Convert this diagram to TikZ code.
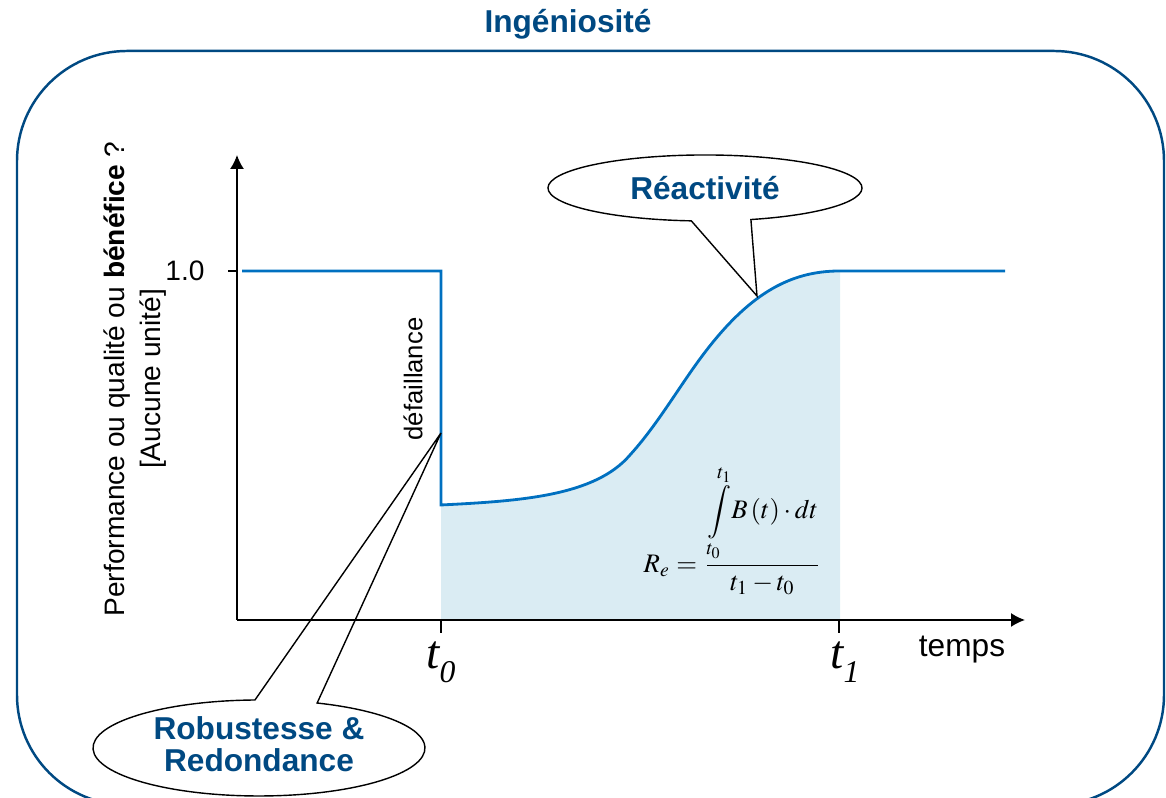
\documentclass[tikz,border=0pt]{standalone}
\usepackage{amsmath}
\usepackage{mathptmx}
\usepackage[no-math]{fontspec}
\setmainfont{Liberation Sans}
\newfontfamily\serifitfont{Liberation Serif}
\usetikzlibrary{arrows.meta,calc,positioning}
\definecolor{ingblue}{RGB}{0,73,130}
\definecolor{curveblue}{RGB}{0,112,192}
\definecolor{areablue}{RGB}{218,236,243}
\newcommand{\tlabel}[1]{{\fontsize{13.5}{14}\serifitfont\itshape t\raisebox{-0.3em}{\fontsize{9}{9}\selectfont #1}}}

\begin{document}
\begin{tikzpicture}[
    axis/.style={line width=0.45pt, -{Latex[length=0.14cm,width=0.14cm]}},
    curve/.style={curveblue, line width=0.8pt},
    thinline/.style={line width=0.4pt},
    bubbletext/.style={ingblue, font=\fontsize{9}{9.2}\selectfont\bfseries, align=center},
    plaintext/.style={font=\fontsize{8}{10}\selectfont, align=center}
]
    \useasboundingbox (0,0) rectangle (11.66,7.98);

    % Outer frame
    \draw[ingblue, line width=0.7pt, rounded corners=1.1cm] (0.17,-0.07) rectangle (11.64,7.47);
    \node[bubbletext] (title) at (5.68,7.74) {Ingéniosité};

    % Key points
    \coordinate (O) at (2.37,1.78);
    \coordinate (t0) at (4.41,1.78);
    \coordinate (t1) at (8.39,1.78);
    \coordinate (drop) at (4.41,2.93);
    \coordinate (recov) at (8.40,5.27);

    % Shaded area between t0 and t1
    \fill[areablue] (t0) -- (drop) .. controls (5.21,2.97) and (5.95,3.02) .. (6.30,3.43)
        .. controls (6.55,3.705) and (6.75,4.044) .. (6.97,4.35)
        .. controls (7.47,5.045) and (7.90,5.27) .. (recov) -- (8.40,1.78) -- cycle;

    % Coordinate system
    \draw[axis] (O) -- (2.37,6.43);
    \draw[axis] (O) -- (10.25,1.78);
    \draw[line width=0.45pt] (2.28,5.27) -- (2.37,5.27);
    \draw[line width=0.45pt] (t0) -- ++(0,-0.13);
    \draw[line width=0.45pt] (t1) -- ++(0,-0.13);
    \node[plaintext, anchor=east] (one) at (2.17,5.27) {1.0};
    \node (t0lab) at (4.41,1.36) {\tlabel{0}};
    \node (t1lab) at (8.45,1.36) {\tlabel{1}};
    \node[font=\fontsize{9}{10}\selectfont] (temps) at (9.62,1.48) {temps};
    \node[plaintext, rotate=90] (ylab) at (1.35,4.19) {Performance ou qualité ou \textbf{bénéfice} ?\\{[Aucune unité]}};

    % Performance curve
    \draw[curve] (2.42,5.27) -- (4.41,5.27) -- (drop) .. controls (5.21,2.97) and (5.95,3.02) .. (6.30,3.43)
        .. controls (6.55,3.705) and (6.75,4.044) .. (6.97,4.35)
        .. controls (7.47,5.045) and (7.90,5.27) .. (recov) -- (10.05,5.27);
    \node[font=\fontsize{7.3}{8}\selectfont, rotate=90] (fail) at (4.13,4.19) {défaillance};

    % Resilience formula
    \node (formula) at (7.33,2.68) {\fontsize{7.6}{9}\selectfont $R_e=\dfrac{\displaystyle\int\limits_{t_0}^{t_1}\! B\left(t\right)\cdot dt}{t_1-t_0}$};

    % Callouts
    \coordinate (reacttip) at (7.57,5.02);
    \node[bubbletext] (react) at (7.05,6.10) {Réactivité};
    \draw[thinline] ($(react.center)+(287:1.57 and 0.33)$) arc[start angle=287, end angle=625, x radius=1.57, y radius=0.33] -- (reacttip) -- cycle;

    \coordinate (robtip) at (4.41,3.65);
    \node[bubbletext] (robust) at (2.59,0.54) {Robustesse \&\\Redondance};
    \draw[thinline] ($(2.59,0.50)+(91.4:1.66 and 0.48)$) arc[start angle=91.4, end angle=429.5, x radius=1.66, y radius=0.48] -- (robtip) -- cycle;
\end{tikzpicture}
\end{document}
